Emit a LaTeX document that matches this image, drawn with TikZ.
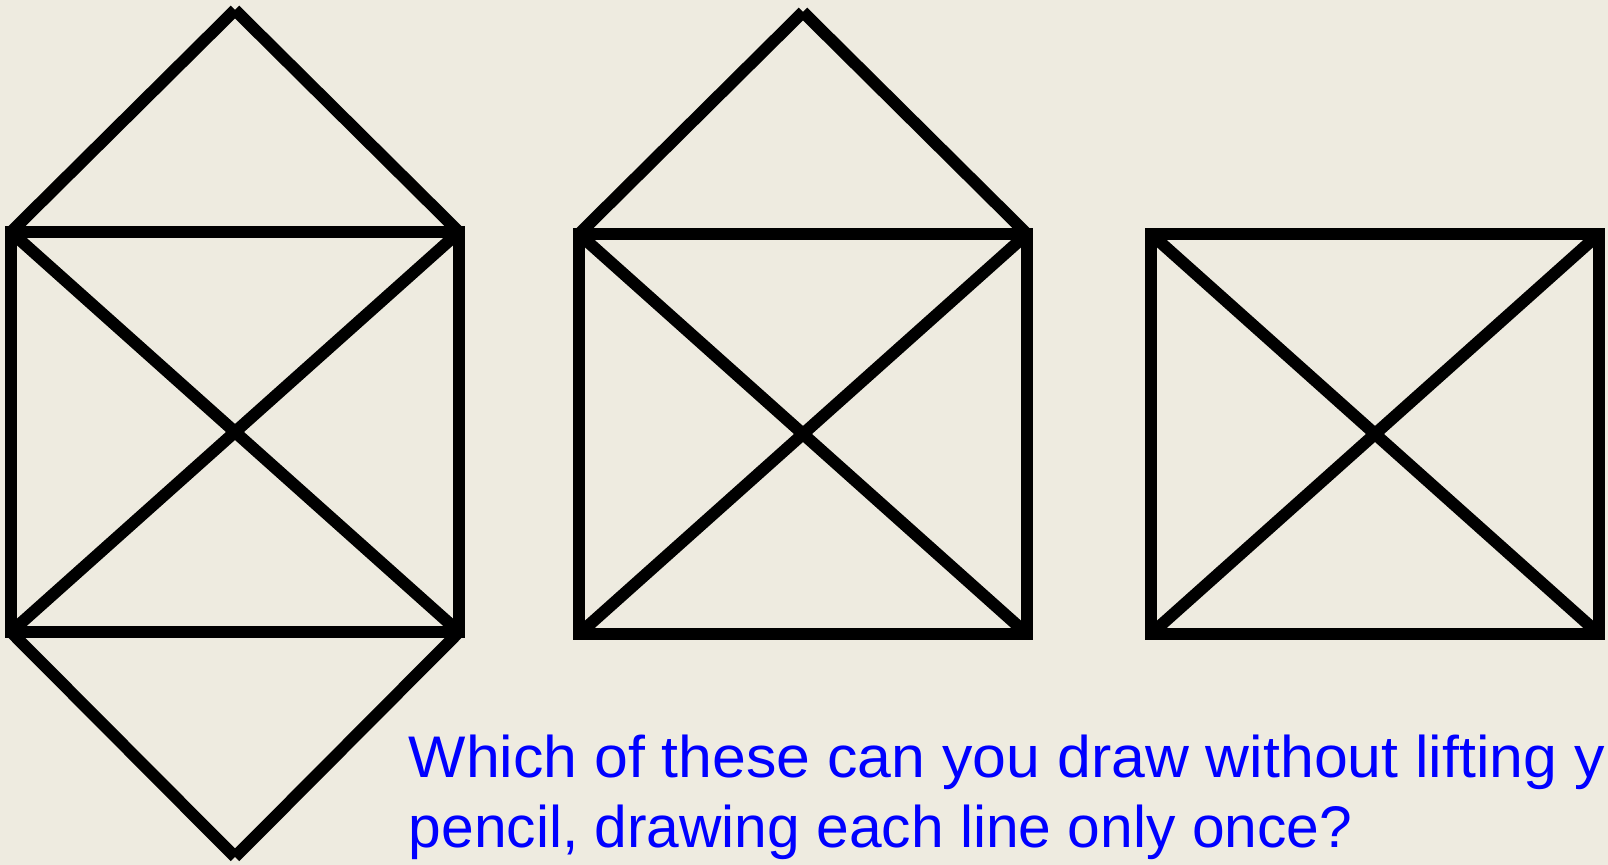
\documentclass[tikz,border=0pt]{standalone}
\usepackage{fontspec}
\setmainfont{Liberation Sans}
\usepackage{xcolor}
\usetikzlibrary{positioning}
\definecolor{paper}{RGB}{238,235,224}
\definecolor{qblue}{RGB}{0,0,255}

\begin{document}
\begin{tikzpicture}[
    x=0.01cm, y=-0.01cm,
    edge/.style={draw=black, line width=0.12cm},
    frame/.style={edge, line join=miter},
    question/.style={text=qblue, font=\fontsize{16.7}{20}\selectfont, inner sep=0pt, anchor=base west}
]
    \fill[paper] (0,0) rectangle (1608,865);
    \useasboundingbox (0,0) rectangle (1608,865);
    \clip (0,0) rectangle (1608,865);

    % first figure: box with a roof above and below
    \coordinate (atl) at (11,232);
    \coordinate (atr) at (459,232);
    \coordinate (abr) at (459,632);
    \coordinate (abl) at (11,632);
    \coordinate (atop) at (235,10);
    \coordinate (abot) at (235,857);
    \draw[frame] (atl) -- (atr) -- (abr) -- (abl) -- cycle;
    \draw[edge] (atl) -- (abr);
    \draw[edge] (atr) -- (abl);
    \draw[edge] (atop) -- (atl);
    \draw[edge] (atop) -- (atr);
    \draw[edge] (abot) -- (abl);
    \draw[edge] (abot) -- (abr);

    % second figure: box with a roof
    \coordinate (btl) at (579,234);
    \coordinate (btr) at (1027,234);
    \coordinate (bbr) at (1027,634);
    \coordinate (bbl) at (579,634);
    \coordinate (btop) at (803,12);
    \draw[frame] (btl) -- (btr) -- (bbr) -- (bbl) -- cycle;
    \draw[edge] (btl) -- (bbr);
    \draw[edge] (btr) -- (bbl);
    \draw[edge] (btop) -- (btl);
    \draw[edge] (btop) -- (btr);

    % third figure: box only
    \coordinate (ctl) at (1151,234);
    \coordinate (ctr) at (1599,234);
    \coordinate (cbr) at (1599,634);
    \coordinate (cbl) at (1151,634);
    \draw[frame] (ctl) -- (ctr) -- (cbr) -- (cbl) -- cycle;
    \draw[edge] (ctl) -- (cbr);
    \draw[edge] (ctr) -- (cbl);

    \node[question] (qline1) at (408,778) {\scalebox{1.035}[1]{Which of these can you draw without lifting y}};
    \node[question] (qline2) at (408,848) {pencil, drawing each line only once?};
\end{tikzpicture}
\end{document}
